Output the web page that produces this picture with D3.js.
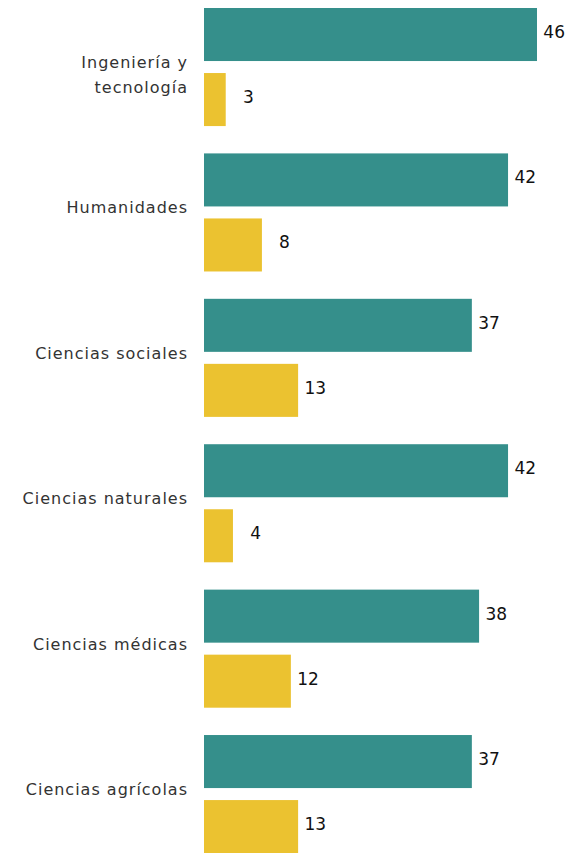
<!DOCTYPE html>
<html><head><meta charset="utf-8">
<script src="https://cdnjs.cloudflare.com/ajax/libs/d3/7.8.5/d3.min.js"></script>
<style>body{margin:0;background:#fff}svg{display:block}</style>
</head><body>
<script>
const categories = [["Ingeniería y","tecnología"],["Humanidades"],["Ciencias sociales"],["Ciencias naturales"],["Ciencias médicas"],["Ciencias agrícolas"]];
const seriesA = [46,42,37,42,38,37];
const seriesB = [3,8,13,4,12,13];
const seriesKeys = ["a","b"];
const colors = {a:"#358F8B", b:"#EBC230"};

const W=582,H=853;
const svg=d3.select("body").append("svg").attr("width",W).attr("height",H);
const x=d3.scaleLinear().domain([0,46]).range([204,537]);
const y0=d3.scaleBand().domain(d3.range(categories.length)).range([8,853.1]).paddingInner(0.188).paddingOuter(0);
const y1=d3.scaleBand().domain(seriesKeys).range([0,y0.bandwidth()]).paddingInner(0.1846).paddingOuter(0);

const data=categories.map((c,i)=>({i,label:c,vals:[{k:"a",v:seriesA[i]},{k:"b",v:seriesB[i]}]}));
const g=svg.selectAll("g.grp").data(data).join("g").attr("class","grp")
  .attr("transform",d=>`translate(0,${y0(d.i)})`);
g.selectAll("rect").data(d=>d.vals).join("rect")
  .attr("x",x(0)).attr("y",d=>y1(d.k)).attr("width",d=>x(d.v)-x(0)).attr("height",y1.bandwidth())
  .attr("fill",d=>colors[d.k]);
g.selectAll("text.val").data(d=>d.vals).join("text").attr("class","val")
  .attr("x",d=>x(d.v)+28).attr("y",d=>y1(d.k)+y1.bandwidth()/2+3.5)
  .attr("text-anchor","end").attr("font-family","DejaVu Sans").attr("font-size",17).attr("fill","#111")
  .text(d=>d.v);
const lab=g.append("text").attr("text-anchor","end").attr("font-family","DejaVu Sans")
  .attr("font-size",16).attr("fill","#333").attr("letter-spacing","1px")
  .attr("y",y0.bandwidth()/2+1);
lab.selectAll("tspan").data(d=>d.label).join("tspan").attr("x",188).attr("dy",(d,j)=>j?25:0).text(d=>d);
</script>
</body></html>
